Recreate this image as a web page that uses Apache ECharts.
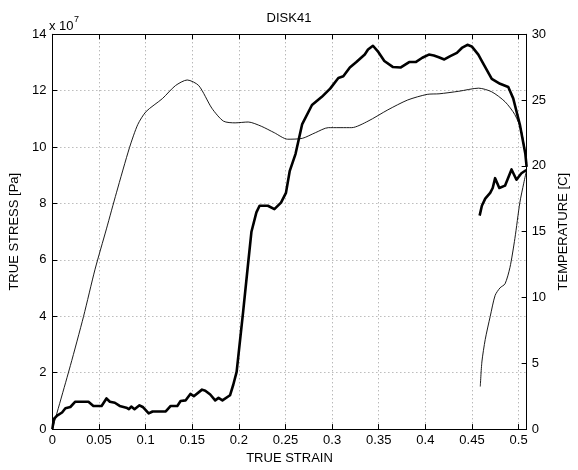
<!DOCTYPE html>
<html><head><meta charset="utf-8">
<script src="https://cdn.jsdelivr.net/npm/echarts@6/dist/echarts.min.js"></script>
<style>html,body{margin:0;padding:0;background:#fff}#c{width:578px;height:470px}</style>
</head><body><div id="c"></div>
<script>
// Stress curve (units of 1e7 Pa), main loading segment
const stressStrainA = [0, 0.0193, 0.0334, 0.0458, 0.058, 0.0687, 0.0828, 0.0916, 0.1005, 0.118, 0.132, 0.1446, 0.157, 0.171, 0.1835, 0.196, 0.21, 0.224, 0.238, 0.2523, 0.268, 0.282, 0.296, 0.321, 0.3385, 0.3597, 0.381, 0.402, 0.4147, 0.4359, 0.4571, 0.4712, 0.4854, 0.496, 0.503, 0.5086];
const stressA       = [0, 2.25, 3.99, 5.67, 7.1, 8.38, 9.99, 10.8, 11.26, 11.72, 12.18, 12.38, 12.18, 11.38, 10.92, 10.86, 10.89, 10.74, 10.51, 10.28, 10.31, 10.51, 10.69, 10.69, 10.92, 11.32, 11.67, 11.87, 11.89, 11.98, 12.09, 11.96, 11.61, 11.15, 10.57, 9.45];
// Stress curve, second segment
const stressStrainB = [0.4589, 0.4606, 0.4642, 0.4695, 0.4748, 0.4801, 0.4854, 0.4907, 0.496, 0.5013, 0.5055, 0.5086];
const stressB       = [1.51, 2.38, 3.18, 3.99, 4.74, 5.01, 5.15, 5.73, 6.76, 8.03, 8.72, 9.19];
// Temperature curve [C], main segment
const tempStrainA = [0, 0.0016, 0.0051, 0.0104, 0.014, 0.0193, 0.0246, 0.0387, 0.044, 0.0528, 0.058, 0.0617, 0.067, 0.0722, 0.0793, 0.0821, 0.0846, 0.0881, 0.0934, 0.0969, 0.1033, 0.1075, 0.1216, 0.1269, 0.134, 0.1375, 0.1428, 0.148, 0.1517, 0.1605, 0.164, 0.1693, 0.1746, 0.1782, 0.1824, 0.1905, 0.194, 0.1976, 0.2046, 0.21, 0.2135, 0.2188, 0.2222, 0.2311, 0.2381, 0.2452, 0.2505, 0.2545, 0.2608, 0.2678, 0.2784, 0.289, 0.2979, 0.3067, 0.312, 0.319, 0.326, 0.335, 0.3385, 0.3438, 0.349, 0.356, 0.365, 0.3737, 0.3826, 0.3896, 0.3967, 0.4038, 0.4091, 0.4144, 0.4203, 0.4267, 0.4338, 0.4391, 0.4451, 0.4497, 0.4568, 0.4606, 0.4712, 0.4801, 0.4889, 0.4942, 0.5013, 0.5072, 0.5086];
const tempA       = [0, 0.77, 1.02, 1.26, 1.59, 1.68, 2.08, 2.08, 1.76, 1.76, 2.33, 2.08, 2.0, 1.76, 1.63, 1.51, 1.71, 1.51, 1.81, 1.68, 1.19, 1.34, 1.34, 1.76, 1.76, 2.13, 2.18, 2.67, 2.5, 3.0, 2.92, 2.63, 2.18, 2.37, 2.18, 2.57, 3.37, 4.35, 8.93, 12.64, 15.0, 16.47, 16.97, 16.97, 16.72, 17.21, 17.95, 19.6, 20.92, 23.15, 24.63, 25.25, 25.87, 26.68, 26.81, 27.48, 27.89, 28.46, 28.84, 29.13, 28.71, 27.97, 27.52, 27.48, 27.89, 27.89, 28.22, 28.46, 28.39, 28.26, 28.09, 28.34, 28.59, 28.96, 29.2, 29.08, 28.46, 27.97, 26.61, 26.24, 25.99, 25.13, 23.15, 20.92, 19.93];
// Temperature curve, second segment
const tempStrainB = [0.4582, 0.4606, 0.4642, 0.4695, 0.4722, 0.4748, 0.4793, 0.4854, 0.4924, 0.4977, 0.503, 0.5083];
const tempB       = [16.22, 16.97, 17.51, 17.95, 18.32, 19.07, 18.32, 18.5, 19.73, 18.95, 19.44, 19.69];

const xTickStep = 0.05, stressTickStep = 2, tempTickStep = 5;

const pairs = (xs, ys) => xs.map((x, i) => [x, ys[i]]);
const FONT = 'Liberation Sans, Arial, Helvetica, sans-serif';
const txt = {color: '#000', fontSize: 13, fontFamily: FONT};
const grid = {color: '#9a9a9a', type: [1, 3], width: 1};

const chart = echarts.init(document.getElementById('c'), null, {renderer: 'canvas'});
chart.setOption({
  animation: false,
  backgroundColor: '#fff',
  grid: {left: 48.6, right: 49.3, top: 34.3, bottom: 31.3, containLabel: false},
  xAxis: [{
    type: 'value', min: 0, max: 0.5086, interval: xTickStep, position: 'bottom',
    name: 'TRUE STRAIN', nameLocation: 'middle', nameGap: 17, nameTextStyle: txt,
    axisLine: {onZero: false, lineStyle: {color: '#000', width: 1}},
    axisTick: {inside: true, length: 5, lineStyle: {color: '#000'}},
    axisLabel: Object.assign({margin: 5, showMaxLabel: false, formatter: v => String(parseFloat(v.toFixed(2)))}, txt),
    splitLine: {show: true, lineStyle: grid}
  }, {
    type: 'value', min: 0, max: 0.5086, interval: xTickStep, position: 'top',
    axisLine: {onZero: false, lineStyle: {color: '#000', width: 1}},
    axisTick: {inside: true, length: 5, lineStyle: {color: '#000'}},
    axisLabel: {show: false}, splitLine: {show: false}
  }],
  yAxis: [{
    type: 'value', min: 0, max: 14, interval: stressTickStep, position: 'left',
    name: 'TRUE STRESS [Pa]', nameLocation: 'middle', nameRotate: 90, nameGap: 22, nameTextStyle: txt,
    axisLine: {show: true, onZero: false, lineStyle: {color: '#000', width: 1}},
    axisTick: {show: true, inside: true, length: 5, lineStyle: {color: '#000'}},
    axisLabel: Object.assign({margin: 6}, txt),
    splitLine: {show: true, lineStyle: grid}
  }, {
    type: 'value', min: 0, max: 30, interval: tempTickStep, position: 'right',
    name: 'TEMPERATURE [C]', nameLocation: 'middle', nameRotate: 90, nameGap: 28, nameTextStyle: txt,
    axisLine: {show: true, onZero: false, lineStyle: {color: '#000', width: 1}},
    axisTick: {show: true, inside: true, length: 5, lineStyle: {color: '#000'}},
    axisLabel: Object.assign({margin: 5}, txt),
    splitLine: {show: false}
  }],
  series: [
    {type: 'line', xAxisIndex: 0, yAxisIndex: 0, data: pairs(stressStrainA, stressA), showSymbol: false, smooth: 0.25, lineStyle: {color: '#000', width: 0.9}},
    {type: 'line', xAxisIndex: 0, yAxisIndex: 0, data: pairs(stressStrainB, stressB), showSymbol: false, smooth: 0.25, lineStyle: {color: '#000', width: 0.9}},
    {type: 'line', xAxisIndex: 0, yAxisIndex: 1, data: pairs(tempStrainA, tempA), showSymbol: false, lineStyle: {color: '#000', width: 2.6, join: 'round'}},
    {type: 'line', xAxisIndex: 0, yAxisIndex: 1, data: pairs(tempStrainB, tempB), showSymbol: false, lineStyle: {color: '#000', width: 2.6, join: 'round'}}
  ],
  graphic: [
    {type: 'text', left: 'center', top: 12, style: {text: 'DISK41', fill: '#000', font: '13px ' + FONT}},
    {type: 'text', x: 49, y: 20, style: {text: 'x 10', fill: '#000', font: '13px ' + FONT}},
    {type: 'text', x: 74, y: 15, style: {text: '7', fill: '#000', font: '9px ' + FONT}}
  ]
});
</script>
</body></html>
